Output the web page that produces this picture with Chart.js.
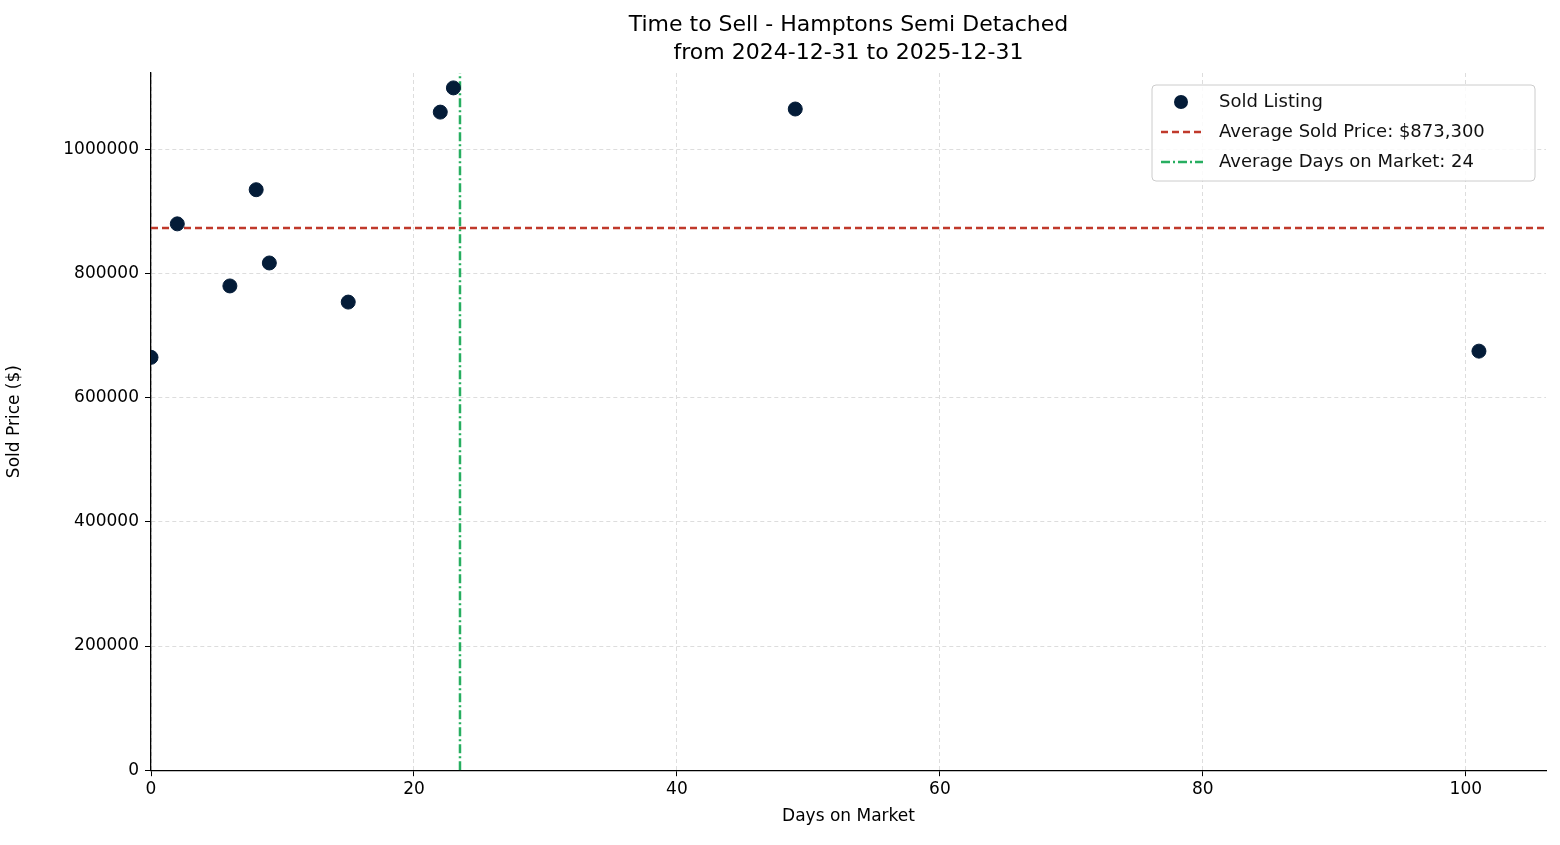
<!DOCTYPE html>
<html><head><meta charset="utf-8">
<script src="https://cdn.jsdelivr.net/npm/chart.js@4"></script>
<style>html,body{margin:0;background:#fff}#wrap{width:1560px;height:845px}</style>
</head><body><div id="wrap"><canvas id="c" width="1560" height="845"></canvas></div>
<script>
const daysOnMarket = [0, 2, 6, 8, 9, 15, 22, 23, 49, 101];
const soldPrices = [665000, 880000, 780000, 935000, 817000, 754000, 1060000, 1099000, 1065000, 675000];
const avgPrice = 873300;
const avgDays = 23.5;
const xRange = [0, 106.1];
const yRange = [0, 1123000];
const titleLines = ['Time to Sell - Hamptons Semi Detached', 'from 2024-12-31 to 2025-12-31'];
const legendLabels = ['Sold Listing', 'Average Sold Price: $873,300', 'Average Days on Market: 24'];

const FONT = 'DejaVu Sans';
const C_PT = '#041c38', C_RED = '#c0392b', C_GRN = '#27ae60';

const overlay = {
  id: 'overlay',
  afterDraw(chart) {
    const ctx = chart.ctx, a = chart.chartArea;
    ctx.save();
    // title centred over the plot area
    ctx.font = '22px ' + FONT; ctx.fillStyle = '#000'; ctx.textAlign = 'center'; ctx.textBaseline = 'middle';
    const cx = (a.left + a.right) / 2;
    ctx.fillText(titleLines[0], cx, 25);
    ctx.fillText(titleLines[1], cx, 53);
    ctx.textAlign = 'left';
    // legend
    const w = 383, h = 96, x = a.right - 11 - w, y = a.top + 12;
    ctx.fillStyle = 'rgba(255,255,255,0.85)';
    ctx.strokeStyle = '#cccccc'; ctx.lineWidth = 1;
    ctx.beginPath(); ctx.roundRect(x, y, w, h, 4); ctx.fill(); ctx.stroke();
    ctx.font = '18px ' + FONT; ctx.fillStyle = '#111';
    const rows = [y + 17, y + 47, y + 77];
    rows.forEach((ry, i) => {
      ctx.fillText(legendLabels[i], x + 67, ry);
      if (i === 0) {
        ctx.fillStyle = C_PT; ctx.beginPath(); ctx.arc(x + 29, ry, 7, 0, Math.PI * 2); ctx.fill(); ctx.fillStyle = '#111';
      } else {
        ctx.strokeStyle = i === 1 ? C_RED : C_GRN; ctx.lineWidth = 2.5;
        ctx.setLineDash(i === 1 ? [7, 4] : [9, 3, 2, 3]);
        ctx.beginPath(); ctx.moveTo(x + 9, ry); ctx.lineTo(x + 51, ry); ctx.stroke(); ctx.setLineDash([]);
      }
    });
    ctx.restore();
  }
};

new Chart(document.getElementById('c').getContext('2d'), {
  type: 'scatter',
  data: {
    datasets: [
      { label: legendLabels[0], data: daysOnMarket.map((d, i) => ({ x: d, y: soldPrices[i] })),
        backgroundColor: C_PT, borderColor: C_PT, pointRadius: 7, order: 0 },
      { label: legendLabels[1], type: 'line', data: [{ x: xRange[0], y: avgPrice }, { x: xRange[1], y: avgPrice }],
        borderColor: C_RED, borderWidth: 2.5, borderDash: [7, 4], pointRadius: 0, order: 1 },
      { label: legendLabels[2], type: 'line', data: [{ x: avgDays, y: yRange[0] }, { x: avgDays, y: yRange[1] }],
        borderColor: C_GRN, borderWidth: 2.5, borderDash: [9, 3, 2, 3], pointRadius: 0, order: 1 }
    ]
  },
  options: {
    responsive: false, animation: false,
    layout: { padding: { left: 0, right: 14, top: 73, bottom: 14 } },
    plugins: { legend: { display: false }, tooltip: { enabled: false }, title: { display: false } },
    scales: {
      x: { type: 'linear', min: xRange[0], max: xRange[1],
        afterBuildTicks: s => { s.ticks = [0, 20, 40, 60, 80, 100].map(v => ({ value: v })); },
        title: { display: true, text: 'Days on Market', color: '#000', font: { family: FONT, size: 17 }, padding: { top: 4 } },
        ticks: { color: '#000', font: { family: FONT, size: 17 } },
        grid: { color: '#dddddd', tickColor: '#000', tickLength: 6 },
        border: { color: '#000', width: 1.3, dash: [4, 3] } },
      y: { type: 'linear', min: yRange[0], max: yRange[1],
        afterBuildTicks: s => { s.ticks = [0, 200000, 400000, 600000, 800000, 1000000].map(v => ({ value: v })); },
        afterFit: s => { s.width = 151; },
        title: { display: true, text: 'Sold Price ($)', color: '#000', font: { family: FONT, size: 17 }, padding: { top: 4, bottom: 0 } },
        ticks: { color: '#000', font: { family: FONT, size: 17 }, padding: 6, callback: v => String(v) },
        grid: { color: '#dddddd', tickColor: '#000', tickLength: 6 },
        border: { color: '#000', width: 1.3, dash: [4, 3] } }
    }
  },
  plugins: [overlay]
});
</script></body></html>
